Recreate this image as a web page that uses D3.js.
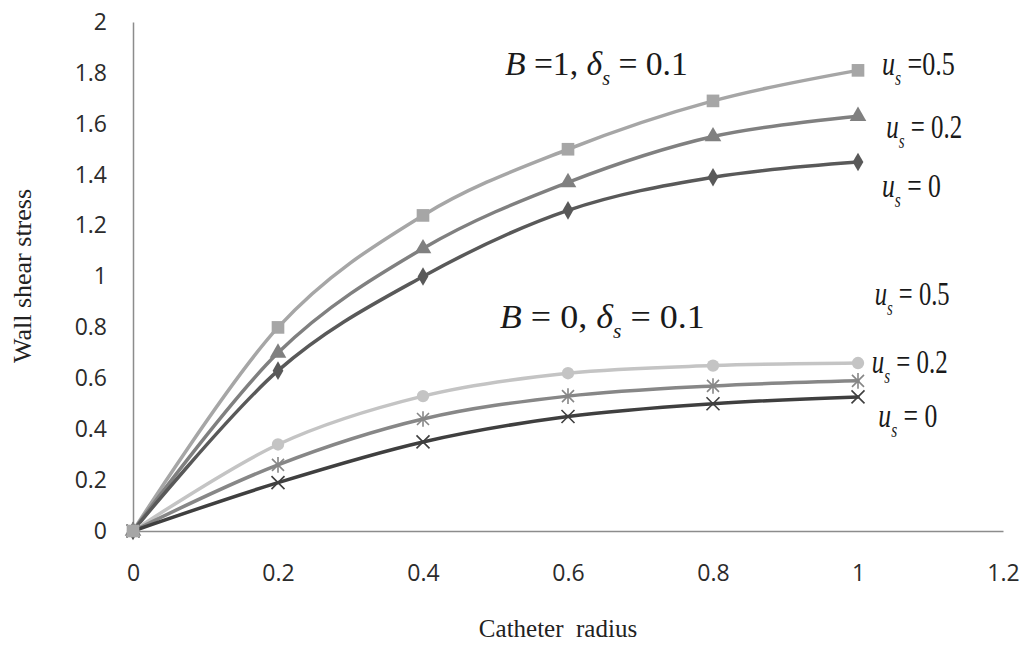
<!DOCTYPE html>
<html lang="en">

<head>
    <meta charset="UTF-8">
    <title>Wall shear stress</title>
    <script src="https://d3js.org/d3.v7.min.js"></script>
    <style>
        body { margin: 0; background: #fff; }
        svg { display: block; }
    </style>
</head>

<body>
    <script>
        // catheter radius (x)
        var radius = [0, 0.2, 0.4, 0.6, 0.8, 1];

        // B = 1, delta_s = 0.1
        var b1_us05 = [0, 0.80, 1.24, 1.50, 1.69, 1.81];
        var b1_us02 = [0, 0.70, 1.11, 1.37, 1.55, 1.63];
        var b1_us0 = [0, 0.63, 1.00, 1.26, 1.39, 1.45];
        // B = 0, delta_s = 0.1
        var b0_us05 = [0, 0.34, 0.53, 0.62, 0.65, 0.66];
        var b0_us02 = [0, 0.26, 0.44, 0.53, 0.57, 0.59];
        var b0_us0 = [0, 0.19, 0.35, 0.45, 0.50, 0.527];

        var xTicks = [0, 0.2, 0.4, 0.6, 0.8, 1, 1.2];
        var yTicks = [0, 0.2, 0.4, 0.6, 0.8, 1, 1.2, 1.4, 1.6, 1.8, 2];

        // annotation text, anchored in data units
        var noteText = [
            [["B", "i"], [" =1, "], ["\u03b4", "i"], ["s", "sub"], [" = 0.1"]],
            [["B", "i"], [" = 0, "], ["\u03b4", "i"], ["s", "sub"], [" = 0.1"]],
            [["u", "i"], ["s", "sub"], [" =0.5"]],
            [["u", "i"], ["s", "sub"], [" = 0.2"]],
            [["u", "i"], ["s", "sub"], [" = 0"]],
            [["u", "i"], ["s", "sub"], [" = 0.5"]],
            [["u", "i"], ["s", "sub"], [" = 0.2"]],
            [["u", "i"], ["s", "sub"], [" = 0"]]
        ];
        var noteX = [0.513, 0.506, 1.033, 1.039, 1.033, 1.023, 1.019, 1.028];
        var noteY = [1.792, 0.798, 1.792, 1.544, 1.312, 0.888, 0.621, 0.409];

        var width = 1027, height = 652;
        var svg = d3.select("body")
            .append("svg")
            .attr("width", width)
            .attr("height", height);

        var x = d3.scaleLinear()
            .domain([0, 1.2])
            .range([133, 1003]);
        var y = d3.scaleLinear()
            .domain([0, 2])
            .range([531, 22]);

        // axes, Excel style: plain grey line, no tick marks
        var xAxis = svg.append("g")
            .attr("transform", "translate(0," + y(0) + ")")
            .call(d3.axisBottom(x).tickValues(xTicks).tickSize(0).tickPadding(34)
                .tickFormat(function (d) { return d3.format("~g")(d); }));
        var yAxis = svg.append("g")
            .attr("transform", "translate(" + x(0) + ",0)")
            .call(d3.axisLeft(y).tickValues(yTicks).tickSize(0).tickPadding(26)
                .tickFormat(function (d) { return d3.format("~g")(d); }));
        [xAxis, yAxis].forEach(function (a) {
            a.select(".domain").attr("stroke", "#8c8c8c").attr("stroke-width", 1.5);
            a.selectAll("text")
                .attr("font-family", "'Open Sans', sans-serif")
                .attr("font-size", 23)
                .attr("fill", "#2b2b2b");
        });

        // axis titles
        svg.append("text")
            .attr("x", 558).attr("y", 637)
            .attr("text-anchor", "middle")
            .attr("font-family", "'Liberation Serif', serif")
            .attr("font-size", 25)
            .attr("fill", "#222")
            .attr("xml:space", "preserve")
            .text("Catheter  radius");
        svg.append("text")
            .attr("transform", "translate(31,276) rotate(-90)")
            .attr("text-anchor", "middle")
            .attr("font-family", "'Liberation Serif', serif")
            .attr("font-size", 26)
            .attr("fill", "#222")
            .text("Wall shear stress");

        // marker shapes
        function crossPath(s) {
            return "M" + (-s) + "," + (-s) + "L" + s + "," + s + "M" + (-s) + "," + s + "L" + s + "," + (-s);
        }
        function starPath(s) {
            return crossPath(s) + "M0," + (-s * 1.3) + "L0," + (s * 1.3);
        }
        var series = [
            { v: b1_us05, color: "#a6a6a6", mark: "square" },
            { v: b1_us02, color: "#808080", mark: "triangle" },
            { v: b1_us0, color: "#595959", mark: "diamond" },
            { v: b0_us05, color: "#c4c4c4", mark: "circle" },
            { v: b0_us02, color: "#878787", mark: "star" },
            { v: b0_us0, color: "#3f3f3f", mark: "cross" }
        ];

        var line = d3.line()
            .x(function (d) { return x(d[0]); })
            .y(function (d) { return y(d[1]); })
            .curve(d3.curveCatmullRom.alpha(0));

        series.forEach(function (s) {
            s.pts = radius.map(function (r, i) { return [r, s.v[i]]; });
            svg.append("path")
                .datum(s.pts)
                .attr("fill", "none")
                .attr("stroke", s.color)
                .attr("stroke-width", 3.5)
                .attr("stroke-linecap", "round")
                .attr("d", line);
        });

        // markers on top, first series last so its square sits on the origin
        series.slice().reverse().forEach(function (s) {
            var m = svg.append("g").selectAll("path")
                .data(s.pts)
                .enter()
                .append("path")
                .attr("transform", function (d) { return "translate(" + x(d[0]) + "," + y(d[1]) + ")"; });
            if (s.mark === "star" || s.mark === "cross") {
                m.attr("d", s.mark === "star" ? starPath(6) : crossPath(6.5))
                    .attr("fill", "none")
                    .attr("stroke", s.color)
                    .attr("stroke-width", 1.6);
            } else {
                var type = {
                    square: d3.symbolSquare, triangle: d3.symbolTriangle,
                    diamond: d3.symbolDiamond, circle: d3.symbolCircle
                }[s.mark];
                var size = { square: 160, triangle: 120, diamond: 100, circle: 120 }[s.mark];
                m.attr("d", d3.symbol().type(type).size(size)())
                    .attr("fill", s.color);
            }
        });

        // equation-like annotations (Times italic, horizontally condensed)
        var noteFont = [34, 34, 34, 34, 34, 34, 34, 34];
        var noteWidth = [183, 205, 73, 76, 59, 75, 76, 59];
        noteText.forEach(function (parts, k) {
            var g = svg.append("g");
            var t = g.append("text")
                .attr("font-family", "'Liberation Serif', serif")
                .attr("font-size", noteFont[k])
                .attr("fill", "#1a1a1a")
                .attr("xml:space", "preserve");
            var shift = 0;
            parts.forEach(function (p) {
                var ts = t.append("tspan").text(p[0]);
                if (p[1] === "i") ts.attr("font-style", "italic");
                if (p[1] === "sub") {
                    ts.attr("font-style", "italic").attr("font-size", noteFont[k] * 0.6).attr("dy", 10);
                    shift = 10;
                } else if (shift) {
                    ts.attr("dy", -shift);
                    shift = 0;
                }
            });
            var w = t.node().getBBox().width;
            g.attr("transform", "translate(" + x(noteX[k]) + "," + y(noteY[k]) + ") scale(" + (noteWidth[k] / w) + ",1)");
        });
    </script>

</body>

</html>
